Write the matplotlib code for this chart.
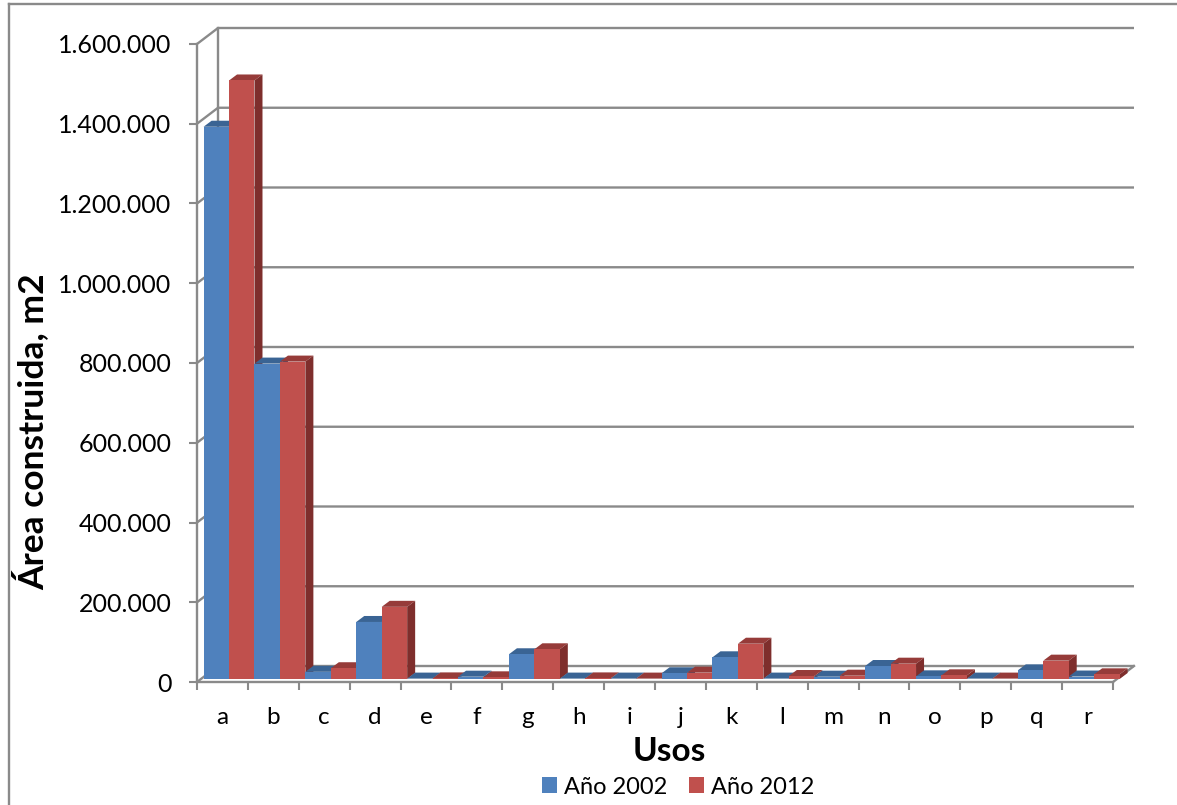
import matplotlib
matplotlib.use("Agg")
import matplotlib.pyplot as plt
from matplotlib.patches import Polygon, Patch
from matplotlib.lines import Line2D
import numpy as np

# ---- data -------------------------------------------------------------
categories = list("abcdefghijklmnopqr")
area_2002 = [1385000, 791000, 18000, 143000, 1000, 5800, 62000, 1000, 1000,
             14300, 54400, 1000, 5800, 32600, 6700, 1000, 21700, 6200]
area_2012 = [1501000, 796000, 27000, 181000, 1500, 4200, 74500, 1500, 1000,
             15900, 88500, 7500, 8300, 38400, 9200, 1000, 46000, 11700]
series_labels = ["Año 2002", "Año 2012"]
y_ticks = [0, 200000, 400000, 600000, 800000, 1000000, 1200000, 1400000, 1600000]
x_title = "Usos"
y_title = "Área construida, m2"

# ---- styling ----------------------------------------------------------
plt.rcParams["font.family"] = ["Lato", "DejaVu Sans"]
FRONT = ["#4F81BD", "#C0504D"]
TOP = ["#3A6494", "#963B39"]
SIDE = ["#2F527C", "#7E2E2C"]
GRID = "#8A8A8A"

W, H = 1177, 805
fig = plt.figure(figsize=(W / 100, H / 100), dpi=100)
ax = fig.add_axes([197 / W, (H - 682) / H, 916 / W, 638 / H])
n = len(categories)
ymax = y_ticks[-1]
ax.set_xlim(-0.5, n - 0.5)
ax.set_ylim(0, ymax)

px_x = 916 / n            # pixels per category
px_y = 638 / ymax         # pixels per value unit

# oblique depth of the chart box
DX = 21 / px_x
DY = 16 / px_y
# placement of the bar block inside the depth
BDX = 6.6 / px_x
BDY = 3 / px_y
TDX = 8 / px_x
TDY = 6 / px_y
bw = 0.5

# back wall, side wall and floor
for v in y_ticks:
    ax.plot([-0.5, -0.5 + DX, n - 0.5 + DX], [v, v + DY, v + DY],
            color=GRID, lw=1.7, clip_on=False, zorder=1, solid_capstyle="butt")
ax.plot([-0.5 + DX, -0.5 + DX], [DY, ymax + DY], color=GRID, lw=1.7,
        clip_on=False, zorder=1)
ax.plot([n - 0.5, n - 0.5 + DX], [0, DY], color=GRID, lw=1.7,
        clip_on=False, zorder=1)

# bars with top and side faces
series = [area_2002, area_2012]
z = 3.0
for i in range(n):
    for s, vals in enumerate(series):
        v = vals[i]
        xl = i - 0.5 + BDX + s * bw
        xr = xl + bw
        yb = BDY
        yt = BDY + v
        bar = ax.bar(xl + bw / 2, v, width=bw, bottom=yb, color=FRONT[s],
                     linewidth=0, clip_on=False)
        for p in bar.patches:
            p.set_zorder(z + 0.002)
        top = Polygon([(xl, yt), (xr, yt), (xr + TDX, yt + TDY), (xl + TDX, yt + TDY)],
                      closed=True, facecolor=TOP[s], edgecolor="none",
                      clip_on=False, zorder=z)
        side = Polygon([(xr, yb), (xr, yt), (xr + TDX, yt + TDY), (xr + TDX, yb + TDY)],
                       closed=True, facecolor=SIDE[s], edgecolor="none",
                       clip_on=False, zorder=z + 0.001)
        ax.add_patch(top)
        ax.add_patch(side)
        z += 0.01

# axes, ticks and labels
for side_name in ["top", "right"]:
    ax.spines[side_name].set_visible(False)
for side_name in ["left", "bottom"]:
    ax.spines[side_name].set_color(GRID)
    ax.spines[side_name].set_linewidth(1.7)
    ax.spines[side_name].set_zorder(10)

ax.set_yticks(y_ticks)
ax.set_yticklabels([f"{v:,}".replace(",", ".") for v in y_ticks])
ax.tick_params(axis="y", length=5.5, width=1.5, color=GRID, pad=13,
               labelsize=18, labelcolor="black")

ax.set_xticks(np.arange(-0.5, n, 1.0))
ax.set_xticklabels([])
ax.set_xticks(np.arange(n), minor=True)
ax.set_xticklabels(categories, minor=True)
ax.tick_params(axis="x", which="major", length=5.5, width=1.5, color=GRID)
ax.tick_params(axis="x", which="minor", length=0, pad=18, labelsize=17.5,
               labelcolor="black")
ax.patch.set_visible(False)

fig.text(669 / W, 1 - 751 / H, x_title, ha="center", va="center",
         fontsize=24, fontweight="bold")
fig.text(31 / W, 1 - 432 / H, y_title, ha="center", va="center",
         rotation=90, fontsize=25.5, fontweight="bold")

handles = [Patch(facecolor=FRONT[0], edgecolor="none"),
           Patch(facecolor=FRONT[1], edgecolor="none")]
fig.legend(handles, series_labels, loc="center",
           bbox_to_anchor=(678 / W, 1 - 787 / H), ncol=2, frameon=False,
           fontsize=17, handlelength=0.65, handleheight=0.65,
           handletextpad=0.3, columnspacing=0.9, borderpad=0)

# outer chart border
fig.add_artist(Line2D([8.5 / W, 8.5 / W], [0, 1 - 4 / H], transform=fig.transFigure,
                      color=GRID, lw=1.7))
fig.add_artist(Line2D([8.5 / W, 1], [1 - 4 / H, 1 - 4 / H], transform=fig.transFigure,
                      color=GRID, lw=1.7))

fig.savefig("out.png", dpi=100)
